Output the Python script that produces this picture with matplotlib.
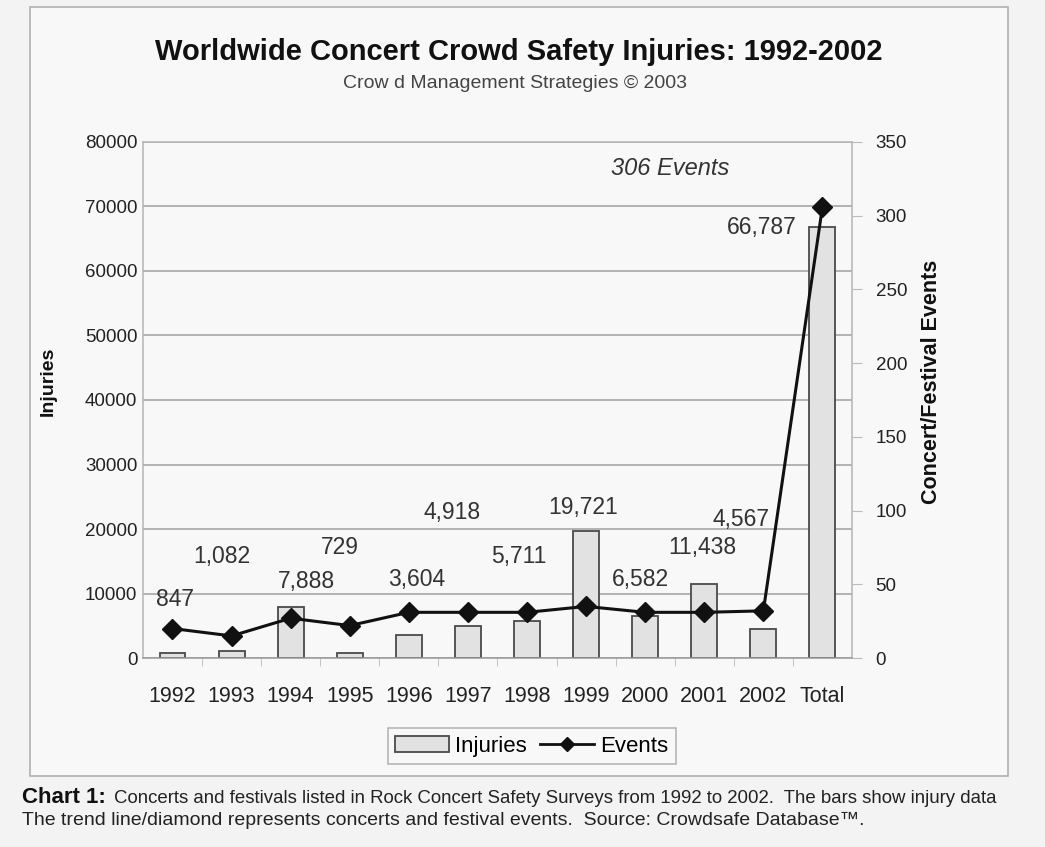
import matplotlib
matplotlib.use("Agg")
import matplotlib.pyplot as plt
from matplotlib.patches import Rectangle, Patch
from matplotlib.lines import Line2D
import numpy as np

plt.rcParams['font.family'] = ['Liberation Sans', 'DejaVu Sans']

# datos
categorias = ['1992', '1993', '1994', '1995', '1996', '1997', '1998', '1999',
              '2000', '2001', '2002', 'Total']
lesiones = [847, 1082, 7888, 729, 3604, 4918, 5711, 19721, 6582, 11438, 4567, 66787]
eventos = [20, 15, 27, 22, 31, 31, 31, 35, 31, 31, 32, 306]
etiquetas = ['847', '1,082', '7,888', '729', '3,604', '4,918', '5,711', '19,721',
             '6,582', '11,438', '4,567', '66,787']

# donde quedan las etiquetas (desfase en x, altura en lesiones)
etq_dx = [0.04, -0.16, 0.26, -0.16, 0.14, -0.27, -0.14, -0.05, -0.08, -0.03, -0.37, -1.03]
etq_y = [9000, 15700, 11800, 17200, 12100, 22500, 15700, 23400, 12100, 17200, 21400, 66700]

fig = plt.figure(figsize=(10.45, 8.47), dpi=100, facecolor='#f3f3f3')

# marco del grafico
fig.patches.append(Rectangle((0.0287, 0.0838), 0.936, 0.908, transform=fig.transFigure,
                             facecolor='#f8f8f8', edgecolor='#b0b0b0', lw=1.2, zorder=-10))

ax = fig.add_axes([0.1368, 0.2231, 0.6785, 0.6093])
ax.set_facecolor('#f8f8f8')
x = np.arange(len(categorias))
ax.bar(x, lesiones, width=0.44, color='#e2e2e2', edgecolor='#4a4a4a', lw=1.3, zorder=2)
ax.set_xlim(-0.5, len(categorias) - 0.5)
ax.set_ylim(0, 80000)
ax.set_yticks(np.arange(0, 80001, 10000))
ax.set_yticklabels([str(v) for v in range(0, 80001, 10000)])
ax.grid(axis='y', color='#a0a0a0', lw=1.1, zorder=0)
ax.set_xticks(x)
ax.set_xticklabels(categorias)
ax.set_xticks(x[:-1] + 0.5, minor=True)
ax.tick_params(axis='x', which='major', length=0, pad=20, labelsize=15.5, labelcolor='#222')
ax.tick_params(axis='x', which='minor', length=6, color='#bbb', direction='out')
ax.tick_params(axis='y', length=0, pad=4, labelsize=13.5, labelcolor='#222')
for s in ax.spines.values():
    s.set_color('#b5b5b5')
    s.set_linewidth(1.1)
ax.spines['bottom'].set_color('#999')
ax.set_ylabel('Injuries', fontsize=14, fontweight='bold', color='#111')
ax.yaxis.set_label_coords(-0.121, 0.537)

for i in range(len(categorias)):
    ax.text(x[i] + etq_dx[i], etq_y[i], etiquetas[i], ha='center', va='center',
            fontsize=16.5, color='#333')

ax2 = ax.twinx()
ax2.plot(x, eventos, color='#111', lw=2.2, marker='D', markersize=10, zorder=3)
ax2.set_ylim(0, 350)
ax2.set_yticks(np.arange(0, 351, 50))
ax2.tick_params(axis='y', length=7, color='#bbb', pad=10, labelsize=13.5, labelcolor='#222')
for s in ax2.spines.values():
    s.set_visible(False)
ax2.set_ylabel('Concert/Festival Events', fontsize=15.5, fontweight='bold', color='#111')
ax2.yaxis.set_label_coords(1.098, 0.535)
ax2.text(8.43, 332, '306 Events', fontsize=17, style='italic',
         color='#333', ha='center', va='center')

# titulo
fig.text(0.496, 0.939, 'Worldwide Concert Crowd Safety Injuries: 1992-2002', ha='center',
         va='center', fontsize=21, fontweight='bold', color='#111')
fig.text(0.493, 0.902, 'Crow d Management Strategies \u00a9 2003', ha='center', va='center',
         fontsize=14, color='#444')

# leyenda
h = [Patch(facecolor='#e2e2e2', edgecolor='#4a4a4a', lw=1.3),
     Line2D([], [], color='#111', lw=2, marker='D', markersize=7)]
leg = fig.legend(h, ['Injuries', 'Events'], loc='center', bbox_to_anchor=(0.509, 0.119),
                 ncol=2, fontsize=16, frameon=True, fancybox=False, handlelength=2.4,
                 columnspacing=0.6, handletextpad=0.3, borderpad=0.35)
leg.get_frame().set_edgecolor('#a0a0a0')
leg.get_frame().set_facecolor('#f8f8f8')
leg.get_frame().set_linewidth(1.1)

# pie de figura
fig.text(0.021, 0.052, 'Chart 1:', fontsize=16, fontweight='bold', color='#111',
         va='baseline')
fig.text(0.109, 0.052, 'Concerts and festivals listed in Rock Concert Safety Surveys '
         'from 1992 to 2002.  The bars show injury data', fontsize=13.4, color='#222',
         va='baseline')
fig.text(0.021, 0.026, 'The trend line/diamond represents concerts and festival events.  '
         'Source: Crowdsafe Database\u2122.', fontsize=14, color='#222', va='baseline')

fig.savefig('out.png', dpi=100, facecolor=fig.get_facecolor())
